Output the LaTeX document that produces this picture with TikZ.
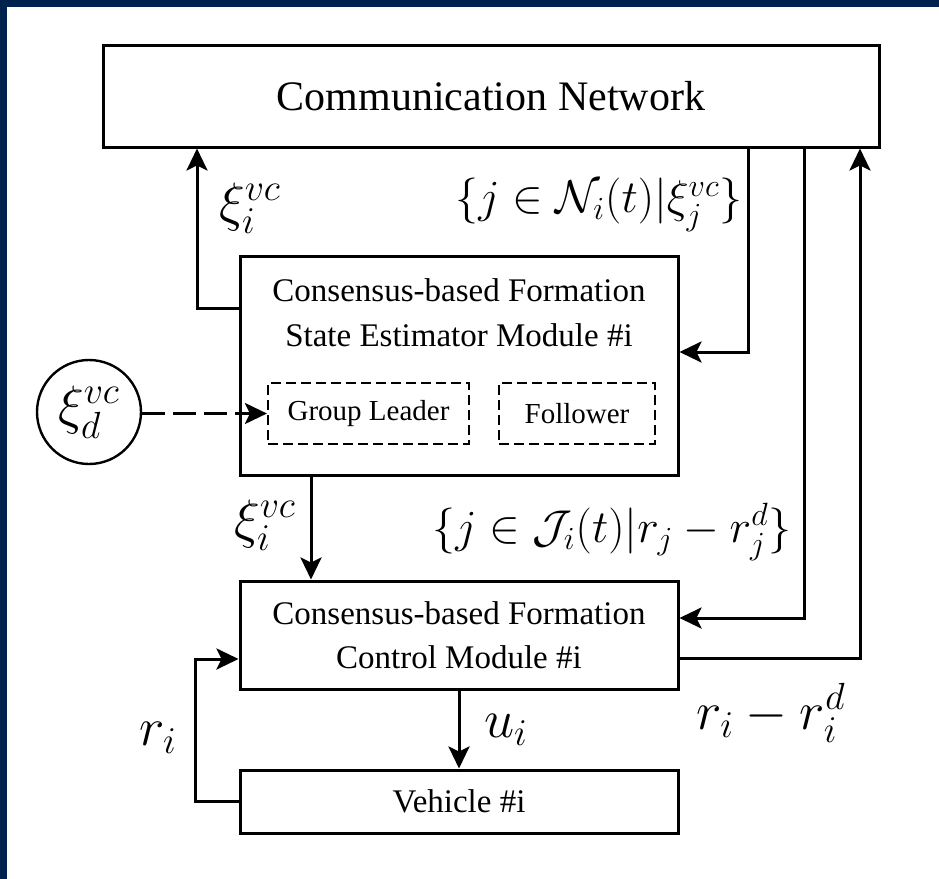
\documentclass[tikz,border=0pt]{standalone}
\usepackage{fix-cm}
\usepackage{amsmath}
\usepackage{fontspec}
\setmainfont{Liberation Serif}
\usetikzlibrary{arrows.meta}
\definecolor{framenavy}{RGB}{0,34,78}

\begin{document}
\begin{tikzpicture}[x=0.5pt, y=-0.5pt,
		block/.style={draw, line width=1.5pt, inner sep=0pt, align=center, font=\fontsize{16.5}{22}\selectfont},
		subblock/.style={draw, dash pattern=on 5pt off 2.5pt, line width=1.1pt, inner sep=0pt, font=\fontsize{14.5}{17}\selectfont},
		flow/.style={-{Stealth[length=11pt, width=10.5pt, inset=2.5pt]}, line width=1.5pt},
		dflow/.style={flow, dash pattern=on 11.5pt off 4pt},
		lbl/.style={inner sep=0pt, font=\fontsize{27}{32}\selectfont},
		setlbl/.style={inner sep=0pt, font=\fontsize{23}{28}\selectfont}]
		\useasboundingbox (0,0) rectangle (939,879);
		\fill[framenavy] (0,0) rectangle (939,7);
		\fill[framenavy] (0,0) rectangle (7,879);
		\node[block, minimum width=388pt, minimum height=51pt, font=\fontsize{21}{24}\selectfont] (net) at (491,96) {Communication Network};
		\node[block, minimum width=219pt, minimum height=109.5pt] (est) at (459,365.5) {};
		\node[align=center, inner sep=0pt, font=\fontsize{16.5}{22.5}\selectfont] (esttxt) at (459,313) {Consensus-based Formation\\State Estimator Module \#i};
		\node[subblock, minimum width=100.5pt, minimum height=30.5pt] (lead) at (368.5,413.5) {Group Leader};
		\node[subblock, minimum width=78pt, minimum height=30.5pt] (foll) at (577,413.5) {Follower};
		\node[draw, circle, line width=1.2pt, minimum size=52pt, inner sep=0pt, font=\fontsize{27}{32}\selectfont] (xid) at (89,412) {$\xi_d^{vc}$};
		\node[block, minimum width=219pt, minimum height=54pt] (ctrl) at (459,635) {Consensus-based Formation\\Control Module \#i};
		\node[block, minimum width=219pt, minimum height=31.5pt] (veh) at (459,801.5) {Vehicle \#i};
		\draw[flow] (est.west |- 0,308) -| (net.south -| 197,0);
		\draw[flow] (net.south -| 748,0) |- (est.east |- 0,352);
		\draw[flow] (net.south -| 804,0) |- (ctrl.east |- 0,618);
		\draw[flow] (ctrl.east |- 0,658) -| (net.south -| 860,0);
		\draw[flow] (est.south -| 311,0) -- (ctrl.north -| 311,0);
		\draw[flow] (ctrl.south) -- (veh.north);
		\draw[flow] (veh.west) -- ++(-43,0) |- (ctrl.west |- 0,659);
		\draw[dflow] (lead.west -| xid.east) -- (lead.west);
		\node[lbl] (xiup) at (250,208) {$\xi_i^{vc}$};
		\node[setlbl] (nbr) at (599,205) {$\{j\in\mathcal{N}_i(t)|\xi_j^{vc}\}$};
		\node[lbl] (xidown) at (265,525) {$\xi_i^{vc}$};
		\node[setlbl] (jset) at (612,532) {$\{j\in\mathcal{J}_i(t)|r_j-r_j^d\}$};
		\node[lbl] (err) at (771,713) {$r_i-r_i^d$};
		\node[lbl] (ui) at (506,730) {$u_i$};
		\node[lbl] (ri) at (158,738) {$r_i$};
	\end{tikzpicture}
\end{document}
